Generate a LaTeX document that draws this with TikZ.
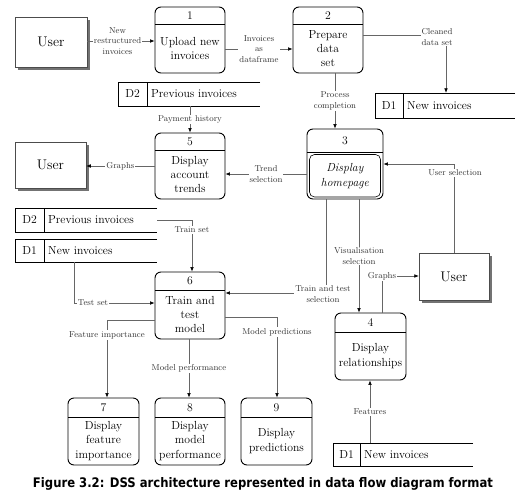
\documentclass[tikz,border=0pt]{standalone}
\usepackage{fontspec}
\usepackage{graphicx}
\newfontfamily\capfont{DejaVu Sans}
\usetikzlibrary{arrows.meta,shadows}
\tikzset{
  proc/.style={draw, line width=0.9pt, rounded corners=6pt, inner sep=0pt, fill=white},
  ptext/.style={font=\fontsize{11.7}{14.3}\selectfont, align=center, inner sep=0pt},
  flow/.style={draw=black!60, line width=0.55pt, -{Latex[length=4.5pt,width=3.6pt,color=black]}},
  plain/.style={draw=black!60, line width=0.55pt},
  lab/.style={font=\fontsize{8.6}{10.8}\selectfont, text=black!80, fill=white, inner sep=1pt, align=center},
  userbox/.style={draw=black!70, line width=0.5pt, fill=white, inner sep=0pt,
    drop shadow={shadow xshift=3pt, shadow yshift=-3pt, fill=black!55, opacity=1},
    font=\fontsize{14}{16}\selectfont},
  store/.style={draw, line width=0.8pt},
}
\newcommand\mkproc[8]{%
  \node[proc, minimum width={(#4-#2)*1pt}, minimum height={(#5-#3)*1pt}] (#1) at ({(#2+#4)/2},{(#3+#5)/2}) {};
  \draw[line width=0.8pt] (#2,#6) -- (#4,#6);
  \node[ptext] at ({(#2+#4)/2},{(#3+#6)/2}) {#7};
  \node[ptext] at ({(#2+#4)/2},{(#6+#5)/2}) {#8};
}
\newcommand\mkstore[8]{%
  \node[inner sep=0pt, minimum width={(#4-#2)*1pt}, minimum height={(#5-#3)*1pt}] (#1) at ({(#2+#4)/2},{(#3+#5)/2}) {};
  \draw[store] (#4,#3) -- (#2,#3) -- (#2,#5) -- (#4,#5);
  \draw[store] (#6,#3) -- (#6,#5);
  \node[ptext] at ({(#2+#6)/2},{(#3+#5)/2}) {#7};
  \node[ptext, anchor=west] at ({#6+4},{(#3+#5)/2}) {#8};
}
\begin{document}
\begin{tikzpicture}[x=1pt,y=-1pt]
\useasboundingbox (0,0) rectangle (532,503);
% external entities
\node[userbox, minimum width=72pt, minimum height=50pt] (u1) at (51,42) {User};
\node[userbox, minimum width=71pt, minimum height=46pt] (u2) at (50.5,165) {User};
\node[userbox, minimum width=70pt, minimum height=47pt] (u3) at (454,276.5) {User};
% processes
\mkproc{p1}{155}{7}{225}{73}{24}{1}{Upload new\\invoices}
\mkproc{p2}{293}{7}{363}{73}{24}{2}{Prepare\\data\\set}
\mkproc{p3}{307}{129}{383}{199}{152}{3}{}
\draw[line width=0.6pt, rounded corners=5pt] (309.5,154.5) rectangle (380.5,197);
\node[ptext] at (345,176) {\textit{Display}\\\textit{homepage}};
\mkproc{p5}{155}{133}{225}{199}{150}{5}{Display\\account\\trends}
\mkproc{p6}{155}{272}{225}{339}{290}{6}{Train and\\test\\model}
\mkproc{p4}{335}{313}{406}{380}{332}{4}{Display\\relationships}
\mkproc{p7}{68}{398}{139}{465}{417}{7}{Display\\feature\\importance}
\mkproc{p8}{155}{398}{225}{465}{417}{8}{Display\\model\\performance}
\mkproc{p9}{241}{398}{312}{465}{417}{9}{Display\\predictions}
% data stores
\mkstore{d1a}{375}{93}{515}{118}{403}{D1}{New invoices}
\mkstore{d2a}{118}{82}{260}{106}{147}{D2}{Previous invoices}
\mkstore{d2b}{15}{208}{157}{232}{44}{D2}{Previous invoices}
\mkstore{d1b}{15}{239}{157}{262}{44}{D1}{New invoices}
\mkstore{d1c}{333}{443}{473}{466}{360}{D1}{New invoices}
% flows
\draw[flow] (u1.east |- 0,41) -- node[lab, pos=0.45]{New\\restructured\\invoices} (p1.west |- 0,41);
\draw[flow] (p1.east |- 0,49) -- node[lab]{Invoices\\as\\dataframe} (p2.west |- 0,49);
\draw[flow] (p2.east |- 0,35) -- (446,35) -- (d1a.north -| 446,0);
\node[lab] at (437,37) {Cleaned\\data set};
\draw[flow] (p2.south -| 335,0) -- node[lab]{Process\\completion} (p3.north -| 335,0);
\draw[flow] (d2a.south -| 190,0) -- node[lab]{Payment history} (p5.north -| 190,0);
\draw[flow] (p5.west |- 0,166) -- node[lab]{Graphs} (u2.east |- 0,166);
\draw[flow] (p3.west |- 0,174) -- node[lab]{Trend\\selection} (p5.east |- 0,174);
\draw[flow] (u3.north -| 454,0) -- (454,164) -- (p3.east |- 0,164);
\node[lab] at (455,173) {User selection};
\draw[flow] (d2b.east |- 0,220) -- (192,220) -- (p6.north -| 192,0);
\node[lab] at (192,230) {Train set};
\draw[flow] (d1b.south -| 74,0) -- (74,303) -- (p6.west |- 0,303);
\node[lab] at (93,303) {Test set};
\draw[flow] (p3.south -| 326,0) -- (326,293) -- (p6.east |- 0,293);
\node[lab] at (323,294) {Train and test\\selection};
\draw[flow] (p3.south -| 359,0) -- node[lab]{Visualisation\\selection} (p4.north -| 359,0);
\draw[flow] (p4.north -| 382,0) -- (382,276) -- (u3.west |- 0,276);
\node[lab] at (382,276) {Graphs};
\draw[flow] (d1c.north -| 370,0) -- node[lab]{Features} (p4.south -| 370,0);
\draw[flow] (p6.west |- 0,320) -- (107,320) -- (p7.north -| 107,0);
\node[lab] at (107,335) {Feature importance};
\draw[flow] (p6.south -| 189,0) -- node[lab]{Model performance} (p8.north -| 189,0);
\draw[flow] (p6.east |- 0,317) -- (277,317) -- (p9.north -| 277,0);
\node[lab] at (277,332) {Model predictions};
% caption
\node[inner sep=0pt] (cap) at (263,484) {\resizebox{460pt}{10pt}{\capfont\bfseries Figure 3.2: DSS architecture represented in data flow diagram format}};
\end{tikzpicture}
\end{document}
